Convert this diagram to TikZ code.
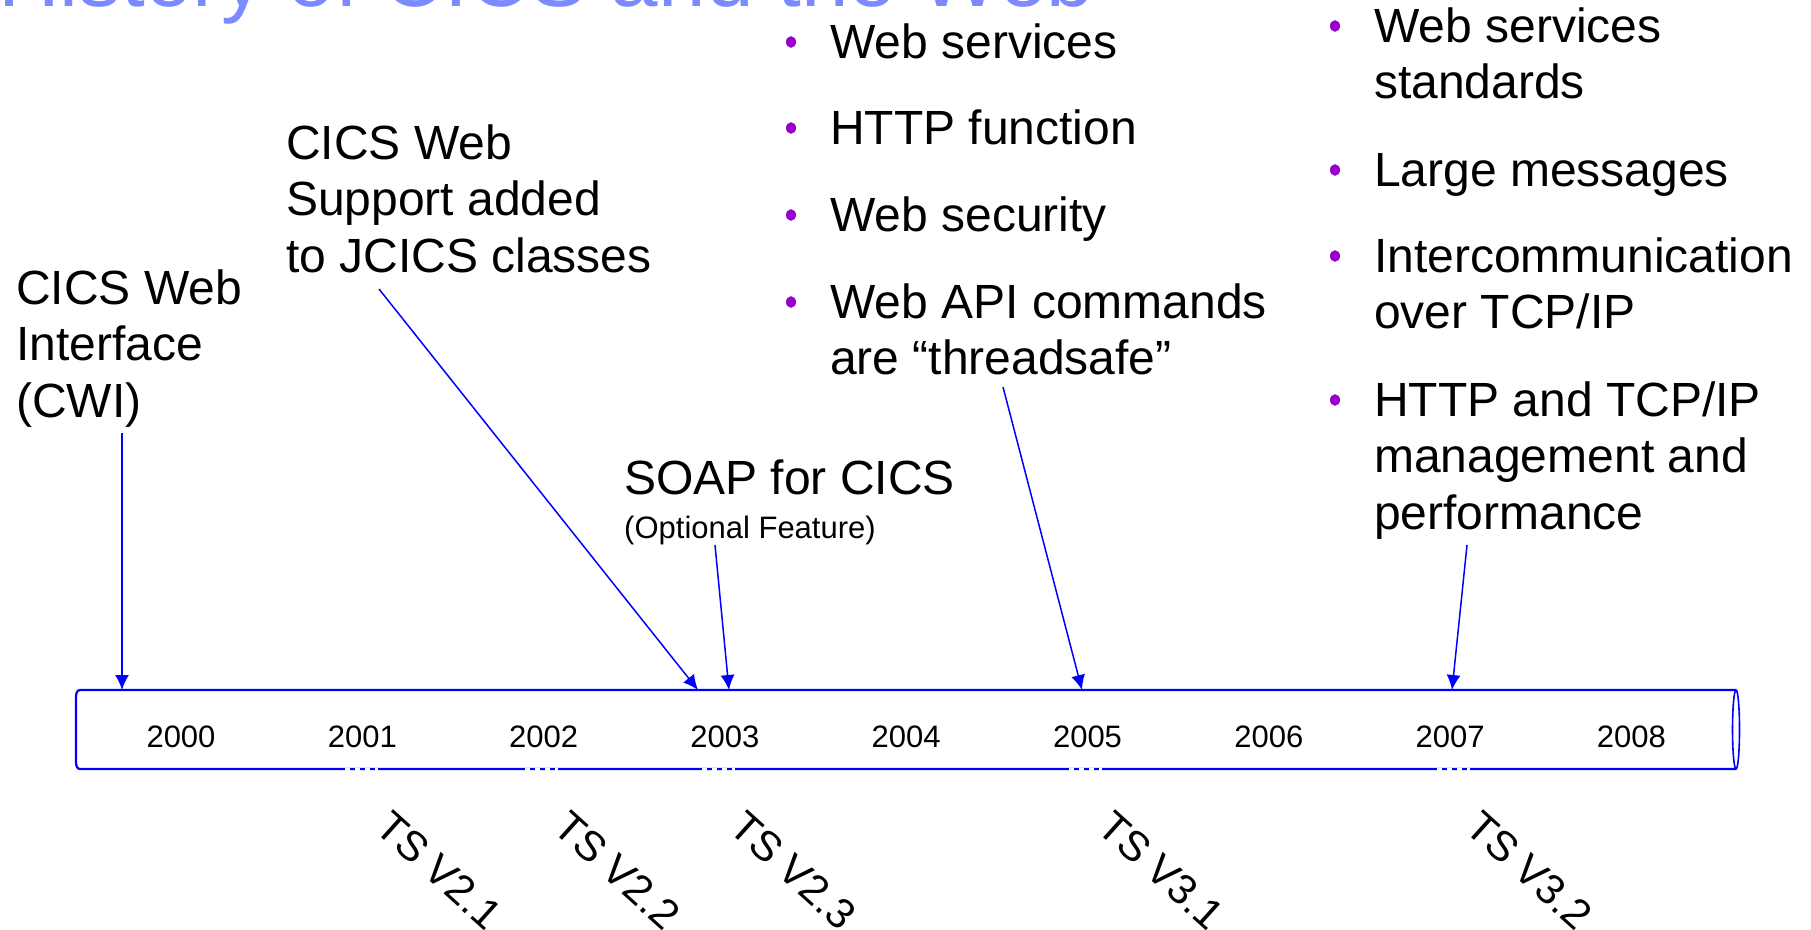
\documentclass[tikz,border=0pt]{standalone}
\usepackage{fontspec}
\setmainfont{Liberation Sans}
\usetikzlibrary{arrows.meta,calc}
\definecolor{titleblue}{RGB}{123,139,255}
\definecolor{lineblue}{RGB}{0,0,255}
\definecolor{bulletpurple}{RGB}{153,0,204}
\newcommand{\mylines}[1]{\vtop{#1}}
\tikzset{
  bigtext/.style={inner sep=0pt, anchor=base west, font=\fontsize{48}{56.5}\selectfont, text=black},
  yeartext/.style={inner sep=0pt, anchor=base, font=\fontsize{31}{37}\selectfont, text=black},
  tslabel/.style={inner sep=0pt, anchor=base west, rotate=-42, font=\fontsize{42}{50}\selectfont, text=black},
  pointer/.style={draw=lineblue, line width=1.5pt, -{Latex[length=15pt,width=14pt]}},
  barline/.style={draw=lineblue, line width=2.2pt},
  whitegap/.style={draw=white, line width=3.5pt, dash pattern=on 5pt off 5pt},
  bulletdot/.style={fill=bulletpurple}
}
\begin{document}
\begin{tikzpicture}[x=1pt,y=-1pt]
\useasboundingbox (0,0) rectangle (1811,929);
\clip (0,0) rectangle (1811,929);
\fill[white] (0,0) rectangle (1811,929);

% title (cut off at top)
\node[inner sep=0pt, anchor=base west, font=\fontsize{85.5}{100}\selectfont, text=titleblue] (title) at (-2,6) {History of CICS and the Web};

% timeline bar
\draw[barline] (1736,690) -- (80,690) to[out=180,in=90] (76,697) -- (76,762) to[out=-90,in=180] (80,769) -- (1736,769);
\draw[draw=lineblue, line width=1.6pt] (1736,729.5) ellipse [x radius=3.5, y radius=39.5];
\coordinate (barleft) at (76,729.5);

% white marks on bottom line
\foreach \x in {362,542,719,1086,1454} {
  \draw[whitegap] (\x-17,770) -- (\x+16,770);
}

% years
\node[yeartext] (y2000) at (181,747) {2000};
\node[yeartext] (y2001) at (362.3,747) {2001};
\node[yeartext] (y2002) at (543.6,747) {2002};
\node[yeartext] (y2003) at (724.9,747) {2003};
\node[yeartext] (y2004) at (906.2,747) {2004};
\node[yeartext] (y2005) at (1087.5,747) {2005};
\node[yeartext] (y2006) at (1268.8,747) {2006};
\node[yeartext] (y2007) at (1450.1,747) {2007};
\node[yeartext] (y2008) at (1631.4,747) {2008};

% TS labels
\node[tslabel] (ts21) at (373,830) {TS V2.1};
\node[tslabel] (ts22) at (551,830) {TS V2.2};
\node[tslabel] (ts23) at (727,830) {TS V2.3};
\node[tslabel] (ts31) at (1095,830) {TS V3.1};
\node[tslabel] (ts32) at (1463,830) {TS V3.2};

% left texts
\node[bigtext] (cwi) at (16,304) {\mylines{\hbox{CICS Web}\hbox{Interface}\hbox{(CWI)}}};
\node[bigtext] (jcics) at (286,159) {\mylines{\hbox{CICS Web}\hbox{Support added}\hbox{to JCICS classes}}};
\node[bigtext] (soap) at (624,494) {SOAP for CICS};
\node[inner sep=0pt, anchor=base west, font=\fontsize{31}{37}\selectfont] (optf) at (624,538) {(Optional Feature)};

% middle list (TS V3.1)
\node[bigtext] (m1) at (830,58) {Web services};
\node[bigtext] (m2) at (830,144) {HTTP function};
\node[bigtext] (m3) at (830,231) {Web security};
\node[bigtext] (m4) at (830,318) {\mylines{\hbox{Web API commands}\hbox{are “threadsafe”}}};
\foreach \n in {m1,m2,m3,m4} {
  \fill[bulletdot] ($(\n.base west)+(-39,-16)$) ellipse [x radius=5, y radius=5.8];
}

% right list (TS V3.2)
\node[bigtext] (r1) at (1374,42) {\mylines{\hbox{Web services}\hbox{standards}}};
\node[bigtext] (r2) at (1374,186) {Large messages};
\node[bigtext] (r3) at (1374,272) {\mylines{\hbox{Intercommunication}\hbox{over TCP/IP}}};
\node[bigtext] (r4) at (1374,416) {\mylines{\hbox{HTTP and TCP/IP}\hbox{management and}\hbox{performance}}};
\foreach \n in {r1,r2,r3,r4} {
  \fill[bulletdot] ($(\n.base west)+(-39,-16)$) ellipse [x radius=5, y radius=5.8];
}

% arrow endpoints
\coordinate (s1) at (122,433);  \coordinate (e1) at (122,690);
\coordinate (s2) at (379,289);  \coordinate (e2) at (698,690);
\coordinate (s3) at (715,545);  \coordinate (e3) at (729,690);
\coordinate (s4) at (1003,387); \coordinate (e4) at (1082,690);
\coordinate (s5) at (1467,545); \coordinate (e5) at (1452,690);

\draw[pointer] (s1) -- (e1);
\draw[pointer] (s2) -- (e2);
\draw[pointer] (s3) -- (e3);
\draw[pointer] (s4) -- (e4);
\draw[pointer] (s5) -- (e5);
\end{tikzpicture}
\end{document}
